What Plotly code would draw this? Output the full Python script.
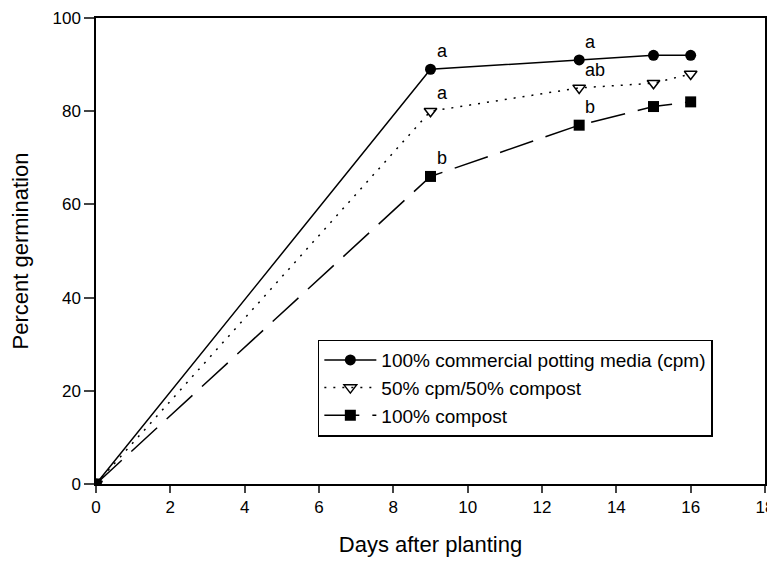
import plotly.graph_objects as go

days = [0, 9, 13, 15, 16]
cpm100 = [0, 89, 91, 92, 92]
cpm50 = [0, 80, 85, 86, 88]
compost100 = [0, 66, 77, 81, 82]

series_names = ["100% commercial potting media (cpm)", "50% cpm/50% compost", "100% compost"]

letter_days = [9, 13, 9, 13, 9, 13]
letter_vals = [89, 91, 80, 85, 66, 77]
letter_text = ["a", "a", "a", "ab", "b", "b"]

x_ticks = [0, 2, 4, 6, 8, 10, 12, 14, 16, 18]
y_ticks = [0, 20, 40, 60, 80, 100]

FONT = "Liberation Sans, Arial"

fig = go.Figure()
fig.add_trace(go.Scatter(x=days, y=cpm100, mode="lines+markers", name=series_names[0],
                         line=dict(color="black", width=1.5),
                         marker=dict(symbol="circle", size=11, color="black")))
fig.add_trace(go.Scatter(x=days, y=cpm50, mode="lines+markers", name=series_names[1],
                         line=dict(color="black", width=1.5, dash="2px,7px"),
                         marker=dict(symbol="triangle-down-open", size=11, color="black",
                                     line=dict(width=1.5, color="black"))))
fig.add_trace(go.Scatter(x=days, y=compost100, mode="lines+markers", name=series_names[2],
                         line=dict(color="black", width=1.5, dash="35px,13px"),
                         marker=dict(symbol="square", size=11, color="black")))

for xd, yv, t in zip(letter_days, letter_vals, letter_text):
    fig.add_annotation(x=xd, y=yv, text=t, showarrow=False, xanchor="left", yanchor="bottom",
                       xshift=4, yshift=6, font=dict(family=FONT, size=18, color="black"))

# page body has an 8px default margin; the figure is sized to fit the window
fig.update_layout(
    width=767, height=554,
    margin=dict(l=88, r=10, t=10, b=78, autoexpand=False),
    paper_bgcolor="white", plot_bgcolor="white",
    font=dict(family=FONT, size=17, color="black"),
    showlegend=True,
    legend=dict(x=0.3316, y=0.31, xanchor="left", yanchor="top",
                bordercolor="black", borderwidth=1.5, bgcolor="white",
                font=dict(family=FONT, size=19), tracegroupgap=0, itemwidth=52),
)
fig.update_xaxes(range=[0, 18], tickvals=x_ticks, ticks="outside", ticklen=7, tickwidth=1.5,
                 showline=True, linecolor="black", linewidth=1.5, mirror=True, showgrid=False,
                 zeroline=False, automargin=False, ticklabeloverflow="allow",
                 title=dict(text="Days after planting", font=dict(family=FONT, size=22), standoff=20))
fig.update_yaxes(range=[0, 100], tickvals=y_ticks, ticks="outside", ticklen=10, tickwidth=1.5,
                 showline=True, linecolor="black", linewidth=1.5, mirror=True, showgrid=False,
                 zeroline=False, automargin=False, ticklabeloverflow="allow",
                 title=dict(text="Percent germination", font=dict(family=FONT, size=22), standoff=25))

fig.write_html("out.html")
